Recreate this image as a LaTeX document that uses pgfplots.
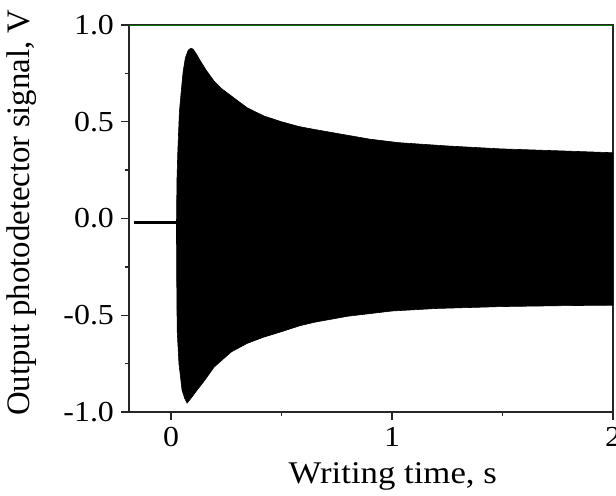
\documentclass[border=0pt]{standalone}
\usepackage{fontspec}
\setmainfont{Liberation Serif}
\newfontfamily\wide[FakeStretch=1.1]{Liberation Serif}
\usepackage{pgfplots}
\pgfplotsset{compat=1.18}
\usetikzlibrary{calc}
\begin{document}
\begin{tikzpicture}
\begin{axis}[
  name=ax,
  scale only axis,
  width=242pt, height=193.5pt,
  xmin=-0.19, xmax=2.0,
  ymin=-1.0, ymax=1.0,
  xtick={0,1,2}, ytick={-1,-0.5,0,0.5,1},
  minor x tick num=1, minor y tick num=1,
  tick align=outside,
  major tick length=4pt, minor tick length=2pt,
  xtick pos=bottom, ytick pos=left,
  axis line style={line width=0.75pt, black!85},
  every tick/.style={line width=0.7pt, black!85},
  /pgf/number format/assume math mode=true,
  yticklabel style={/pgf/number format/.cd, fixed, fixed zerofill, precision=1},
  ticklabel style={font=\wide\fontsize{14.5}{17}\selectfont},
  xlabel={Writing time, s},
  ylabel={Output photodetector signal, V},
  xlabel style={font=\wide\fontsize{15.8}{18}\selectfont, at={(axis description cs:0.545,0)}, anchor=base, yshift=-35.5pt},
  ylabel style={font=\fontsize{16.4}{18}\selectfont, at={(axis description cs:-0.221,0.515)}, anchor=center, rotate=0},
  clip=true,
]
% baseline before writing
\addplot[black, line width=1.5pt] coordinates {(-0.168,-0.02) (0.027,-0.02)};
% envelope of the dense oscillation (upper then lower reversed)
\addplot[fill=black, draw=black, line width=0.3pt] coordinates {
 (0.025,-0.02) (0.027,0.2) (0.031,0.35) (0.038,0.55) (0.045,0.64) (0.055,0.76) (0.065,0.83) (0.078,0.87) (0.09,0.88)
 (0.1,0.875) (0.115,0.85) (0.13,0.82) (0.16,0.765) (0.195,0.71) (0.23,0.67) (0.272,0.634)
 (0.345,0.572) (0.42,0.53) (0.5,0.5) (0.58,0.475) (0.65,0.46) (0.8,0.43) (0.9,0.41) (1.03,0.392)
 (1.25,0.375) (1.49,0.36) (1.75,0.35) (2.0,0.34)
 (2.0,-0.448) (1.8,-0.45) (1.5,-0.455) (1.2,-0.465) (1.0,-0.478) (0.8,-0.505)
 (0.65,-0.536) (0.58,-0.555) (0.5,-0.585) (0.42,-0.613) (0.345,-0.645) (0.272,-0.69)
 (0.195,-0.768) (0.15,-0.84) (0.118,-0.887) (0.09,-0.93) (0.073,-0.954) (0.062,-0.93)
 (0.05,-0.887) (0.036,-0.75) (0.028,-0.58) (0.026,-0.32) (0.025,-0.1)
} -- cycle;
\draw[green!45!black, line width=0.8pt] (rel axis cs:0,1) -- (rel axis cs:1,1);
\end{axis}
\pgfresetboundingbox
\path ($(ax.south west)+(-64.5pt,-41.5pt)$) rectangle ($(ax.north east)+(1.5pt,12.5pt)$);
\end{tikzpicture}
\end{document}
